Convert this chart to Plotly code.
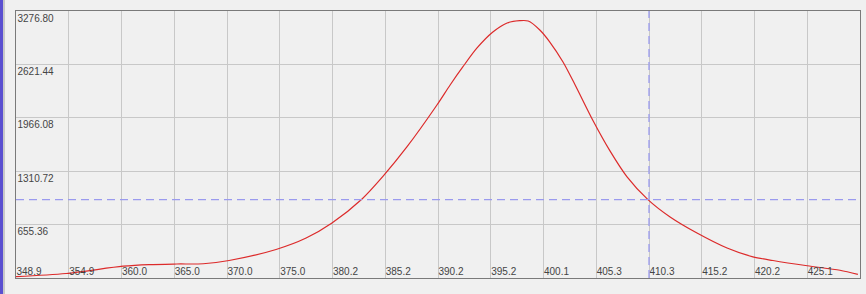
import plotly.graph_objects as go

# Axis tick labels (grid index positions 0..15)
x_tick_pos = list(range(16))
x_tick_text = ["348.9", "354.9", "360.0", "365.0", "370.0", "375.0", "380.2", "385.2",
               "390.2", "395.2", "400.1", "405.3", "410.3", "415.2", "420.2", "425.1"]
y_tick_vals = [0, 655.36, 1310.72, 1966.08, 2621.44, 3276.80]
y_tick_text = ["", "655.36", "1310.72", "1966.08", "2621.44", "3276.80"]

# Curve, x in grid-index units, y in intensity
x_pos = [0.0, 0.95, 2.03, 2.52, 3.05, 3.55, 4.04, 4.93, 5.5, 5.99, 6.56, 6.96, 7.41, 7.98,
         8.23, 8.47, 8.74, 9.04, 9.31, 9.55, 9.71, 9.93, 10.12, 10.37, 10.60, 10.94,
         11.26, 11.58, 11.98, 12.40, 12.91, 13.48, 13.97, 14.35, 15.0, 15.62, 15.96]
intensity = [16, 55, 145, 165, 172, 175, 215, 350, 490, 675, 970, 1250, 1608, 2123,
             2369, 2590, 2823, 3019, 3130, 3158, 3154, 3044, 2896, 2651, 2369, 1930,
             1560, 1245, 962, 749, 552, 368, 260, 215, 150, 95, 45]

cursor_x = 12
cursor_y = 962

W, H = 866, 294
ML, MR, MT, MB = 16, 6, 11, 16
PW = W - ML - MR
PH = H - MT - MB

fig = go.Figure()
fig.add_trace(go.Scatter(x=x_pos, y=intensity, mode="lines",
                         line=dict(color="#dc2a2a", width=1.2, shape="spline", smoothing=0.8),
                         hoverinfo="skip", showlegend=False))

fig.add_shape(type="line", xref="x", yref="y", x0=0, x1=16, y0=cursor_y, y1=cursor_y,
              line=dict(color="#9a9aee", width=1.3, dash="8px,5px"))
fig.add_shape(type="line", xref="x", yref="y", x0=cursor_x, x1=cursor_x, y0=0, y1=3276.8,
              line=dict(color="#9a9aee", width=1.3, dash="8px,5px"))

# window edge decoration on left
def px2paper(px):
    return (px - ML) / PW
fig.add_shape(type="rect", xref="paper", yref="paper", x0=px2paper(0), x1=px2paper(3),
              y0=-MB / PH, y1=1 + MT / PH,
              fillcolor="#5a4fd0", line=dict(width=0), layer="above")
fig.add_shape(type="line", xref="paper", yref="paper", x0=px2paper(4), x1=px2paper(4),
              y0=-MB / PH, y1=1 + MT / PH,
              line=dict(color="#a0a0a0", width=1))

fig.update_layout(
    width=W, height=H,
    margin=dict(l=ML, r=MR, t=MT, b=MB),
    paper_bgcolor="#f0f0f0", plot_bgcolor="#f0f0f0",
    font=dict(family="Liberation Sans", size=10, color="#333333"),
    xaxis=dict(range=[0, 16], tickvals=x_tick_pos, ticktext=x_tick_text,
               ticklabelposition="inside right", ticklabeloverflow="allow", ticks="",
               ticklabelstandoff=-3,
               showgrid=True, gridcolor="#c8c8c8", gridwidth=1, zeroline=False,
               showline=True, linecolor="#7a7a7a", linewidth=1, mirror=True,
               fixedrange=True),
    yaxis=dict(range=[0, 3276.8], tickvals=y_tick_vals, ticktext=y_tick_text,
               ticklabelposition="inside bottom", ticklabeloverflow="allow", ticks="",
               showgrid=True, gridcolor="#c8c8c8", gridwidth=1, zeroline=False,
               showline=True, linecolor="#7a7a7a", linewidth=1, mirror=True,
               fixedrange=True),
)

fig.write_html("out.html", config={"displayModeBar": False})
